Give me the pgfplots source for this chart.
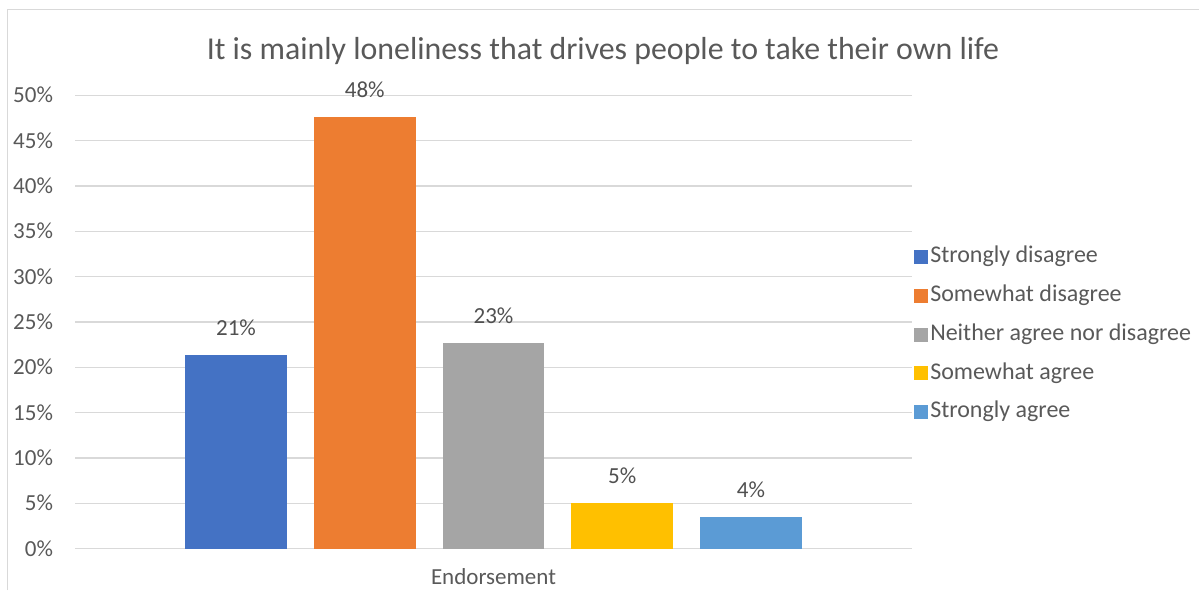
\documentclass[border=0pt]{standalone}
\usepackage{pgfplots}
\pgfplotsset{compat=1.18}
\usepackage{fontspec}
\setmainfont{Carlito}
\definecolor{c1}{HTML}{4472C4}
\definecolor{c2}{HTML}{ED7D31}
\definecolor{c3}{HTML}{A5A5A5}
\definecolor{c4}{HTML}{FFC000}
\definecolor{c5}{HTML}{5B9BD5}
\definecolor{txt}{HTML}{595959}
\definecolor{grd}{HTML}{D9D9D9}
\begin{document}
\begin{tikzpicture}[x=0.75pt,y=0.75pt]
\path[use as bounding box] (0,0) rectangle (1199,590);
\draw[grd, line width=0.75pt] (7,0) -- (7,580) -- (1199,580);
\begin{axis}[
  at={(75,45.7)}, anchor=south west,
  scale only axis, width=627.75pt, height=340pt,
  ybar, bar shift=0pt, bar width=101.7,
  xmin=-418.5, xmax=418.5, ymin=0, ymax=50,
  ytick={0,5,...,50},
  yticklabel={\pgfmathprintnumber{\tick}\%},
  /pgf/number format/assume math mode=true,
  ymajorgrids, grid style={grd, line width=0.9pt},
  axis line style={draw=none},
  major tick length=0pt,
  xtick={0}, xticklabels={Endorsement},
  tick label style={font=\fontsize{17.25pt}{20pt}\selectfont, text=txt},
  yticklabel style={xshift=-13pt},
  xticklabel style={yshift=-11.5pt},
  title={It is mainly loneliness that drives people to take their own life},
  title style={at={(0.6308,1.079)}, anchor=center, font=\fontsize{23.9pt}{28pt}\selectfont, text=txt},
  nodes near coords,
  point meta=explicit symbolic,
  every node near coord/.append style={font=\fontsize{17.25pt}{20pt}\selectfont, text=txt!90!black, anchor=south, inner sep=0pt, yshift=14.5pt},
  legend style={at={(0.9976,0.472)}, anchor=west, draw=none, fill=none,
    font=\fontsize{18pt}{21pt}\selectfont, text=txt,
    nodes={inner ysep=0pt, inner xsep=1.5pt, text height=12.5pt, text depth=4pt},
    row sep=12.6pt, column sep=0pt, cells={anchor=west}},
  legend image code/.code={\fill[#1] (0pt,-5.25pt) rectangle (10.5pt,5.25pt);},
]
\addplot[fill=c1, draw=none] coordinates {(-257.5,21.34) [21\%]};
\addlegendentry{Strongly disagree}
\addplot[fill=c2, draw=none] coordinates {(-128.75,47.6) [48\%]};
\addlegendentry{Somewhat disagree}
\addplot[fill=c3, draw=none] coordinates {(0,22.66) [23\%]};
\addlegendentry{Neither agree nor disagree}
\addplot[fill=c4, draw=none] coordinates {(128.75,5.0) [5\%]};
\addlegendentry{Somewhat agree}
\addplot[fill=c5, draw=none] coordinates {(257.5,3.49) [4\%]};
\addlegendentry{Strongly agree}
\end{axis}
\end{tikzpicture}
\end{document}
